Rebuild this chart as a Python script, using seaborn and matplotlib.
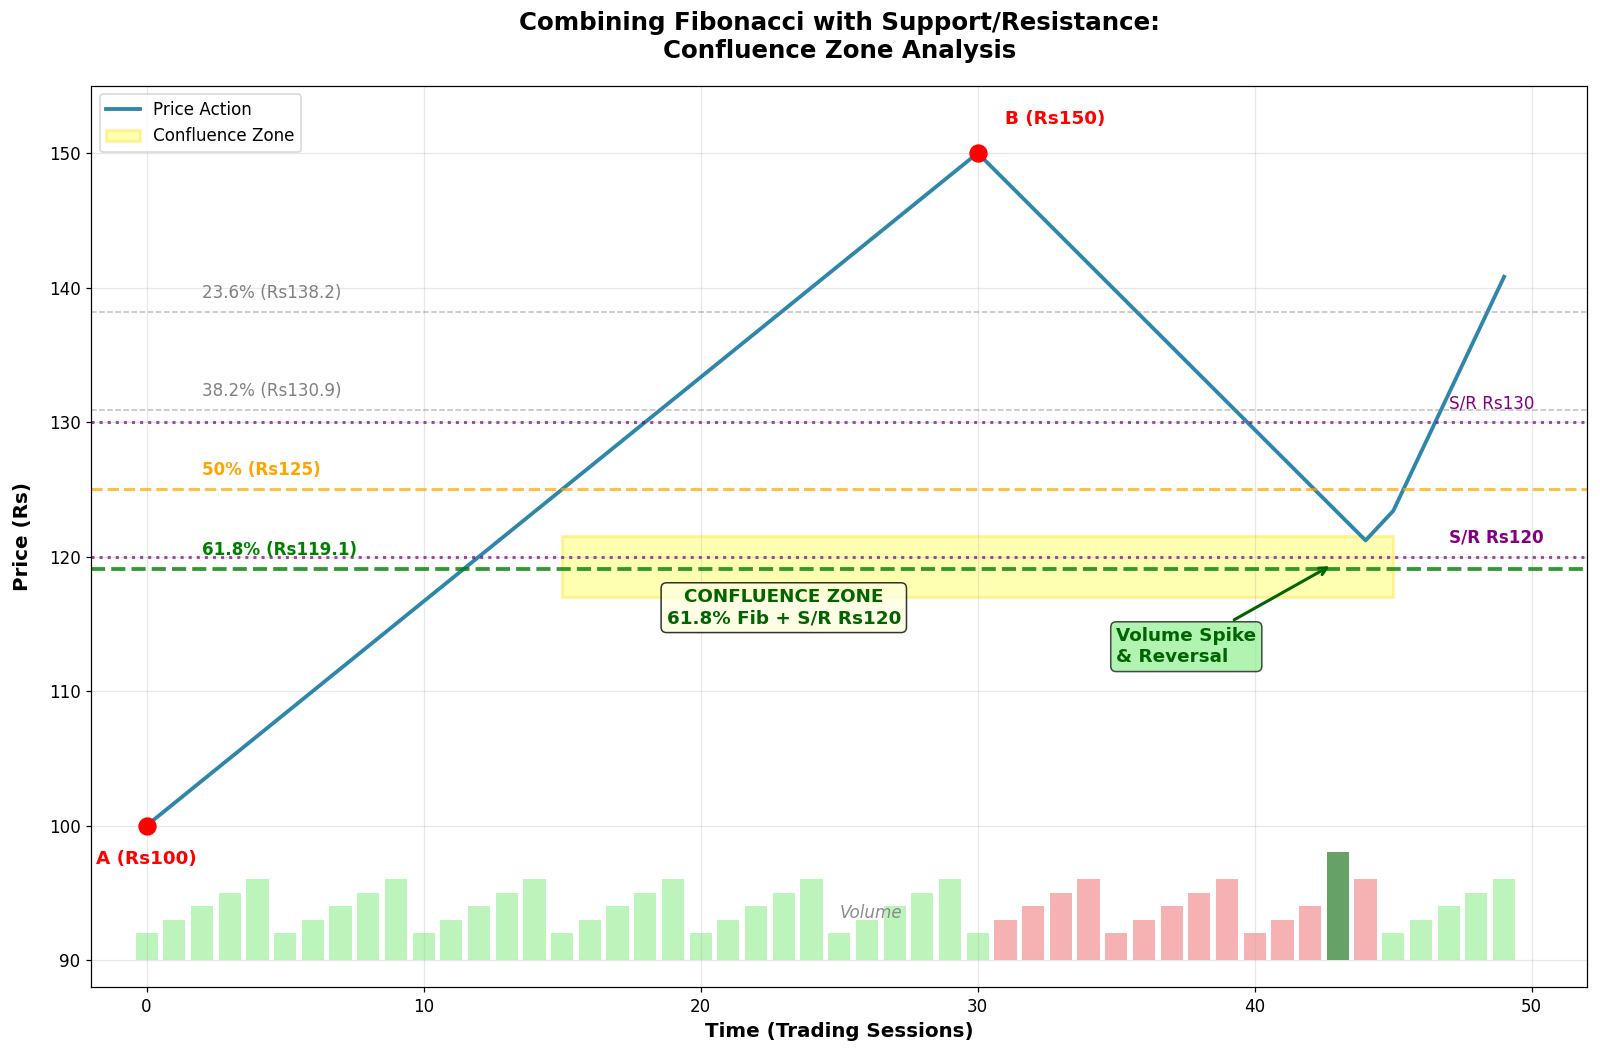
import matplotlib
matplotlib.use('Agg')
import matplotlib.pyplot as plt
import seaborn as sns
import pandas as pd
from matplotlib.patches import Rectangle

# price path - turning points, straight legs between them
price_x = [0, 30, 44, 45, 49]
price_y = [100, 150, 121.2, 123.4, 140.8]

# swing low / swing high
swing_x = [0, 30]
swing_y = [100, 150]
swing_labels = ['A (Rs100)', 'B (Rs150)']

# fibonacci retracement levels
fib_names = ['23.6%', '38.2%', '50%', '61.8%']
fib_prices = [138.2, 130.9, 125, 119.1]
fib_label_txt = ['23.6% (Rs138.2)', '38.2% (Rs130.9)', '50% (Rs125)', '61.8% (Rs119.1)']

# support / resistance levels
sr_levels = [130, 120]
sr_label_txt = ['S/R Rs130', 'S/R Rs120']

# volume bars (height above the 90 base line)
sessions = list(range(50))
volume = [2, 3, 4, 5, 6, 2, 3, 4, 5, 6,
          2, 3, 4, 5, 6, 2, 3, 4, 5, 6,
          2, 3, 4, 5, 6, 2, 3, 4, 5, 6,
          2, 3, 4, 5, 6, 2, 3, 4, 5, 6,
          2, 3, 4, 8, 6, 2, 3, 4, 5, 6]
vol_base = 90
down_days = list(range(31, 45))
spike_day = 43

# confluence zone box
zone_x = [15, 45]
zone_y = [117, 121.5]

DPI = 110
fig, ax = plt.subplots(figsize=(1600 / DPI, 1059 / DPI), dpi=DPI)
fig.subplots_adjust(left=0.057, right=0.992, top=0.919, bottom=0.068)

# volume first so it sits behind everything
bar_colors = []
for d in sessions:
    if d == spike_day:
        bar_colors.append('darkgreen')
    elif d in down_days:
        bar_colors.append('lightcoral')
    else:
        bar_colors.append('lightgreen')
ax.bar(sessions, volume, bottom=vol_base, width=0.8, color=bar_colors, alpha=0.6)
ax.text(25, 93.5, 'Volume', fontsize=11, style='italic', color='gray', alpha=0.9, va='center')

# price line
df = pd.DataFrame({'session': price_x, 'price': price_y})
sns.lineplot(data=df, x='session', y='price', ax=ax, color='#2E86AB',
             linewidth=2.5, label='Price Action')

# swing points
ax.plot(swing_x, swing_y, 'o', color='red', markersize=11, zorder=5)
ax.text(swing_x[0], 97.5, swing_labels[0], color='red', fontsize=12,
        fontweight='bold', ha='center', va='center')
ax.text(31, 152.5, swing_labels[1], color='red', fontsize=12,
        fontweight='bold', ha='left', va='center')

# fib lines - different styles per level
fib_styles = [
    dict(color='gray', linestyle='--', linewidth=1, alpha=0.5),
    dict(color='gray', linestyle='--', linewidth=1, alpha=0.5),
    dict(color='orange', linestyle='--', linewidth=2, alpha=0.7),
    dict(color='green', linestyle='--', linewidth=2.5, alpha=0.8),
]
fib_text_styles = [
    dict(color='gray', fontweight='normal'),
    dict(color='gray', fontweight='normal'),
    dict(color='orange', fontweight='bold'),
    dict(color='green', fontweight='bold'),
]
for lvl, txt, ls, ts in zip(fib_prices, fib_label_txt, fib_styles, fib_text_styles):
    ax.axhline(lvl, **ls)
    ax.text(2, lvl + 1.4, txt, fontsize=11, va='center', **ts)

# S/R lines
sr_weights = ['normal', 'bold']
for lvl, txt, w in zip(sr_levels, sr_label_txt, sr_weights):
    ax.axhline(lvl, color='purple', linestyle=':', linewidth=2, alpha=0.7)
    ax.text(47, lvl + 1.4, txt, fontsize=11, color='purple', fontweight=w, va='center')

# confluence zone
zone = Rectangle((zone_x[0], zone_y[0]), zone_x[1] - zone_x[0], zone_y[1] - zone_y[0],
                 facecolor='yellow', edgecolor='gold', linewidth=2, alpha=0.3,
                 label='Confluence Zone')
ax.add_patch(zone)
ax.text(23, 116.2, 'CONFLUENCE ZONE\n61.8% Fib + S/R Rs120', fontsize=12,
        fontweight='bold', color='darkgreen', ha='center', va='center',
        bbox=dict(boxstyle='round,pad=0.3', facecolor='lightyellow', edgecolor='black', alpha=0.8))

# volume spike annotation
ax.annotate('Volume Spike\n& Reversal', xy=(42.8, 119.4), xytext=(35, 113.3),
            fontsize=12, fontweight='bold', color='darkgreen', ha='left', va='center',
            bbox=dict(boxstyle='round,pad=0.3', facecolor='lightgreen', edgecolor='black', alpha=0.7),
            arrowprops=dict(arrowstyle='->', color='darkgreen', lw=2))

ax.set_xlim(-2, 52)
ax.set_ylim(88, 155)
ax.set_xlabel('Time (Trading Sessions)', fontsize=13, fontweight='bold')
ax.set_ylabel('Price (Rs)', fontsize=13, fontweight='bold', labelpad=11)
ax.set_title('Combining Fibonacci with Support/Resistance:\nConfluence Zone Analysis',
             fontsize=16, fontweight='bold', pad=18)
ax.tick_params(labelsize=11)
ax.grid(True, alpha=0.3)
ax.legend(loc='upper left', fontsize=11)

fig.savefig('out.png', dpi=DPI)
